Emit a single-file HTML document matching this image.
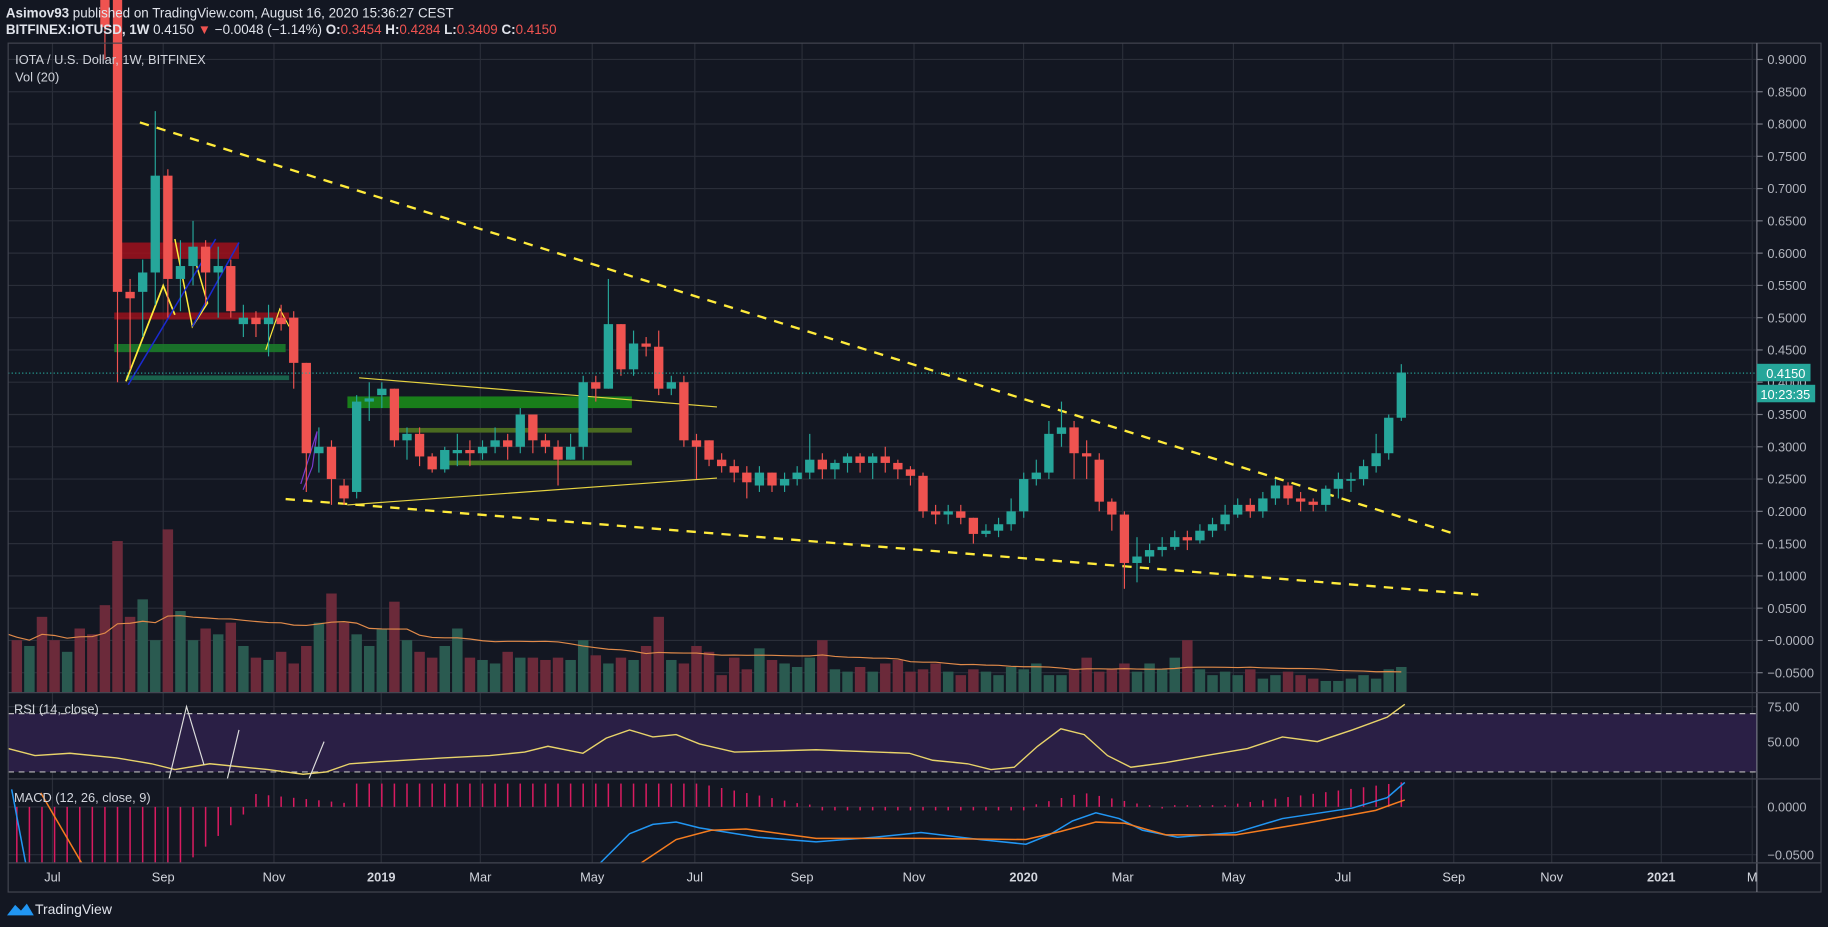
<!DOCTYPE html>
<html><head><meta charset="utf-8"><style>
html,body{margin:0;padding:0;background:#131722;overflow:hidden}
svg{display:block}
text{font-family:"Liberation Sans",sans-serif}
</style></head><body>
<svg id="s" width="1828" height="927" viewBox="0 0 1568 795" preserveAspectRatio="none" xmlns="http://www.w3.org/2000/svg">
<rect width="1568" height="795" fill="#131722"/>
<g id="grid" stroke="#2a2e39" stroke-width="1"></g>
<rect x="7" y="612" width="1500" height="50" fill="#2a1f45"/>
<line x1="7" y1="612" x2="1507" y2="612" stroke="#bbb" stroke-dasharray="5,4"/>
<line x1="7" y1="662" x2="1507" y2="662" stroke="#bbb" stroke-dasharray="5,4"/>
<g id="vol"></g>
<g id="draw"></g>
<g id="cdl"></g>
<g id="ind"></g>
<line x1="7" y1="320" x2="1507" y2="320" stroke="#26a69a" stroke-dasharray="1,2"/>
<!-- frames -->
<rect x="7" y="37" width="1555" height="728" fill="none" stroke="#434651"/>
<line x1="1507" y1="37" x2="1507" y2="765" stroke="#787b86"/>
<line x1="7" y1="594" x2="1562" y2="594" stroke="#434651"/>
<line x1="7" y1="668" x2="1562" y2="668" stroke="#434651"/>
<line x1="7" y1="740" x2="1562" y2="740" stroke="#434651"/>
<g id="axis" font-size="11" fill="#b2b5be"></g>
<rect x="1507" y="312" width="46" height="15" fill="#26a69a"/>
<text x="1515" y="324" font-size="11" fill="#fff">0.4150</text>
<rect x="1507" y="330" width="50" height="15" fill="#26a69a"/>
<text x="1510" y="342" font-size="11" fill="#fff">10:23:35</text>
<text x="5" y="15" font-size="11.5" fill="#e0e3eb"><tspan font-weight="bold">Asimov93</tspan> published on TradingView.com, August 16, 2020 15:36:27 CEST</text>
<text x="5" y="29" font-size="11.5" fill="#e0e3eb"><tspan font-weight="bold">BITFINEX:IOTUSD, 1W</tspan> 0.4150 <tspan fill="#ef5350">▼</tspan> −0.0048 (−1.14%) <tspan font-weight="bold">O:</tspan><tspan fill="#ef5350">0.3454</tspan> <tspan font-weight="bold">H:</tspan><tspan fill="#ef5350">0.4284</tspan> <tspan font-weight="bold">L:</tspan><tspan fill="#ef5350">0.3409</tspan> <tspan font-weight="bold">C:</tspan><tspan fill="#ef5350">0.4150</tspan></text>
<text x="13" y="55" font-size="11" fill="#d1d4dc">IOTA / U.S. Dollar, 1W, BITFINEX</text>
<text x="13" y="70" font-size="11" fill="#d1d4dc">Vol (20)</text>
<text x="12" y="612" font-size="11" fill="#d1d4dc">RSI (14, close)</text>
<text x="12" y="688" font-size="11" fill="#d1d4dc">MACD (12, 26, close, 9)</text>
<path d="M6 785 l7 -9 l5 5 l5 -6 l6 10 z" fill="#2196f3"/>
<text x="30" y="784" font-size="12" fill="#e0e3eb">TradingView</text>
</svg>
<script>
const NS="http://www.w3.org/2000/svg";
function el(p,t,a){const e=document.createElementNS(NS,t);for(const k in a)e.setAttribute(k,a[k]);document.getElementById(p).appendChild(e);return e;}
const Y=p=>51+(0.9-p)*553.6;
// grid + axis
for(let i=0;i<=19;i++){const p=0.9-i*0.05,y=Y(p);el('grid','line',{x1:7,y1:y,x2:1507,y2:y});
 const t=el('axis','text',{x:1516,y:y+4});t.textContent=(p<0.0001&&p>-0.0001)?'−0.0000':(p<0?'−'+(-p).toFixed(4):p.toFixed(4));el('axis','line',{x1:1507,y1:y,x2:1512,y2:y,stroke:'#787b86'});}
[[606,'75.00'],[636,'50.00'],[692,'0.0000'],[733,'−0.0500']].forEach(([y,s])=>{const t=el('axis','text',{x:1516,y:y+4});t.textContent=s;el('grid','line',{x1:7,y1:y,x2:1507,y2:y});});
[[45,'Jul'],[140,'Sep'],[235,'Nov'],[327,'2019'],[412,'Mar'],[508,'May'],[596,'Jul'],[688,'Sep'],[784,'Nov'],[878,'2020'],[963,'Mar'],[1058,'May'],[1152,'Jul'],[1247,'Sep'],[1331,'Nov'],[1425,'2021'],[1503,'M']].forEach(([x,s])=>{
 el('grid','line',{x1:x,y1:37,x2:x,y2:740});const t=el('axis','text',{x:x,y:756,'text-anchor':'middle',fill:'#d1d4dc'});t.textContent=s;if(s=='2019'||s=='2020'||s=='2021')t.setAttribute('font-weight','bold');});
// candles [open,close,high,low]
const C=[[1.05,0.95,1.1,0.9],[1.0,0.54,1.0,0.40],[0.54,0.53,0.56,0.42],[0.54,0.57,0.59,0.47],[0.57,0.72,0.82,0.52],[0.72,0.56,0.73,0.5],[0.56,0.58,0.62,0.51],[0.58,0.61,0.65,0.55],[0.61,0.57,0.62,0.52],[0.57,0.58,0.61,0.5],[0.58,0.51,0.59,0.5],
[0.49,0.50,0.52,0.47],[0.50,0.49,0.51,0.47],[0.49,0.50,0.52,0.44],[0.50,0.49,0.52,0.48],[0.50,0.43,0.51,0.39],[0.43,0.29,0.43,0.23],[0.29,0.30,0.33,0.26],[0.30,0.25,0.31,0.21],[0.24,0.22,0.25,0.21],[0.23,0.37,0.38,0.22],[0.37,0.375,0.40,0.34],[0.38,0.39,0.40,0.36],[0.39,0.31,0.39,0.30],[0.31,0.32,0.33,0.28],[0.32,0.285,0.33,0.27],[0.285,0.265,0.29,0.26],[0.265,0.295,0.3,0.26],[0.29,0.295,0.32,0.27],[0.295,0.29,0.31,0.27],[0.29,0.30,0.31,0.28],[0.30,0.31,0.33,0.29],[0.31,0.30,0.32,0.28],[0.30,0.35,0.36,0.29],[0.35,0.31,0.35,0.29],[0.31,0.30,0.32,0.29],[0.30,0.28,0.31,0.24],[0.28,0.30,0.32,0.28],[0.30,0.40,0.41,0.28],[0.40,0.39,0.41,0.37],[0.39,0.49,0.56,0.39],[0.49,0.42,0.49,0.41],[0.42,0.46,0.48,0.41],[0.46,0.455,0.47,0.44],[0.455,0.39,0.48,0.38],[0.39,0.40,0.41,0.38],[0.40,0.31,0.41,0.30],[0.31,0.30,0.32,0.25],[0.31,0.28,0.31,0.27],[0.28,0.27,0.29,0.26],[0.27,0.26,0.28,0.245],[0.26,0.245,0.27,0.22],[0.24,0.26,0.27,0.23],[0.26,0.24,0.26,0.23],[0.24,0.25,0.26,0.23],[0.25,0.26,0.27,0.24],[0.26,0.28,0.32,0.25],[0.28,0.265,0.29,0.25],[0.265,0.275,0.28,0.25],[0.275,0.285,0.29,0.26],[0.285,0.275,0.29,0.26],[0.275,0.285,0.29,0.25],[0.285,0.275,0.30,0.26],[0.275,0.265,0.28,0.25],[0.265,0.255,0.27,0.24],[0.255,0.20,0.26,0.19],[0.20,0.195,0.21,0.18],[0.195,0.20,0.21,0.18],[0.20,0.19,0.21,0.18],[0.19,0.165,0.19,0.15],[0.165,0.17,0.18,0.16],[0.17,0.18,0.19,0.16],[0.18,0.20,0.22,0.17],[0.20,0.25,0.26,0.19],[0.25,0.26,0.28,0.24],[0.26,0.32,0.34,0.25],[0.32,0.33,0.37,0.30],[0.33,0.29,0.34,0.25],[0.29,0.285,0.31,0.25],[0.28,0.215,0.29,0.20],[0.215,0.195,0.22,0.17],[0.195,0.12,0.20,0.08],[0.12,0.13,0.16,0.09],[0.13,0.14,0.15,0.12],[0.14,0.145,0.16,0.13],[0.145,0.16,0.17,0.14],[0.16,0.155,0.17,0.14],[0.155,0.17,0.18,0.15],[0.17,0.18,0.19,0.16],[0.18,0.195,0.21,0.17],[0.195,0.21,0.22,0.19],[0.21,0.20,0.22,0.19],[0.20,0.22,0.23,0.19],[0.22,0.24,0.25,0.21],[0.24,0.22,0.245,0.21],[0.22,0.215,0.23,0.20],[0.215,0.21,0.22,0.20],[0.21,0.235,0.24,0.20],[0.235,0.25,0.26,0.22],[0.25,0.25,0.26,0.23],[0.25,0.27,0.28,0.24],[0.27,0.29,0.32,0.26],[0.29,0.345,0.35,0.28],[0.345,0.415,0.428,0.34]];
const n=C.length,st=(1202-90)/(n-1),X=i=>90+i*st;
// volume
const V=[50,45,40,65,45,35,55,50,75,130,65,80,45,140,70,45,55,50,60,40,30,28,35,25,40,60,85,60,50,40,55,78,45,35,30,40,55,30,28,25,35,30,30,28,30,28,45,32,25,30,28,40,65,28,25,40,35,15,30,20,38,28,25,22,30,45,20,18,22,18,25,28,18,20,25,18,15,20,18,15,22,20,25,15,15,20,30,18,20,25,18,25,20,30,45,20,15,18,15,20,12,15,18,15,12,10,10,12,15,12,20,22,15,18,22];
for(let i=-8;i<n;i++){const x=X(i);if(x<8)continue;const v=V[i+8]||15;const up=i>=0?C[i][1]>=C[i][0]:(i%3==0);
 el('vol','rect',{x:x-4.5,y:594-v,width:9,height:v,fill:up?'#2a5a50':'#6b2a3a'});}
let ma=[];for(let i=-8;i<n;i++){const x=X(i);if(x<8)continue;let s=0,c=0;for(let k=Math.max(0,i+8-19);k<=i+8;k++){s+=V[k]||15;c++;}ma.push(x.toFixed(1)+','+(594-s/c).toFixed(1));}
el('vol','polyline',{points:'7,544 '+ma.join(' '),fill:'none',stroke:'#e08a4a','stroke-width':1});
// drawings
const D=(t,a)=>el('draw',t,a);
D('rect',{x:98,y:208,width:107,height:14,fill:'#a0101c',opacity:0.85});
D('rect',{x:98,y:268,width:150,height:6,fill:'#a0101c',opacity:0.8});
D('rect',{x:98,y:295,width:147,height:7,fill:'#1b7a2a',opacity:0.9});
D('rect',{x:108,y:322,width:140,height:4,fill:'#1b6a50',opacity:0.9});
D('rect',{x:298,y:340,width:244,height:10,fill:'#1b8a1a',opacity:0.9});
D('rect',{x:338,y:367,width:204,height:4,fill:'#4a6a20'});
D('rect',{x:385,y:395,width:157,height:4,fill:'#4a7a20'});
D('polyline',{points:'108,327 140,245 150,270',stroke:'#ffeb3b',fill:'none','stroke-width':1.5});
D('polyline',{points:'150,205 165,280 178,260 165,215',stroke:'#ffeb3b',fill:'none','stroke-width':1.3});
D('line',{x1:110,y1:330,x2:185,y2:205,stroke:'#1a2ad0','stroke-width':1.3});
D('line',{x1:165,y1:280,x2:205,y2:208,stroke:'#1a2ad0','stroke-width':1.3});
D('polyline',{points:'228,300 240,265 248,280',stroke:'#ffeb3b',fill:'none'});
D('line',{x1:308,y1:324,x2:615,y2:349,stroke:'#e6d340','stroke-width':1});
D('line',{x1:298,y1:433,x2:615,y2:410,stroke:'#e6d340','stroke-width':1});
D('polyline',{points:'258,415 272,370 268,400 260,420',stroke:'#7a3ad0',fill:'none'});
D('line',{x1:120,y1:105,x2:1245,y2:457,stroke:'#ffeb3b','stroke-width':2,'stroke-dasharray':'8,7'});
D('line',{x1:245,y1:428,x2:1268,y2:510,stroke:'#ffeb3b','stroke-width':2,'stroke-dasharray':'8,7'});
// candles
C.forEach((c,i)=>{const x=X(i),[o,cl,h,l]=c,col=cl>=o?'#26a69a':'#ef5350';
 el('cdl','line',{x1:x,y1:Y(h),x2:x,y2:Y(l),stroke:col,'stroke-width':1});
 const t=Y(Math.max(o,cl)),b=Y(Math.min(o,cl));el('cdl','rect',{x:x-4,y:t,width:8,height:Math.max(1.5,b-t),fill:col});});
// RSI
el('ind','polyline',{points:'7,642 30,648 60,646 100,650 130,655 150,660 180,655 230,660 260,664 280,662 300,655 330,653 380,650 420,648 450,645 470,640 500,646 520,633 540,626 560,632 580,630 600,638 630,645 700,643 780,646 800,652 830,655 850,660 870,658 890,640 910,625 930,630 950,648 970,658 1000,654 1040,647 1070,642 1100,632 1130,636 1160,626 1190,615 1205,604',fill:'none',stroke:'#e8d36a','stroke-width':1.2});
el('ind','polyline',{points:'145,668 160,606 175,656',fill:'none',stroke:'#ddd'});
el('ind','line',{x1:195,y1:668,x2:205,y2:626,stroke:'#ddd'});
el('ind','line',{x1:265,y1:668,x2:278,y2:636,stroke:'#ddd'});
// MACD histogram
for(let i=-8;i<n;i++){const x=X(i);if(x<12)continue;let h;
 if(x<160)h=-48;else if(x<215)h=-48+(x-160)*0.85;else if(x<300)h=Math.max(-3,8-(x-250)*0.1)*((x%3)?1:0.5);else if(x<600)h=20;else if(x<700)h=Math.max(2,20-(x-600)*0.2);else if(x<880)h=-3;else if(x<930)h=(x-880)*0.25;else if(x<1000)h=12-(x-930)*0.2;else h=Math.max(0,(x-1040)*0.13);
 if(Math.abs(h)<1)h=1.5;el('ind','line',{x1:x,y1:692,x2:x,y2:692-h,stroke:'#d81b60','stroke-width':1.3});}
el('ind','polyline',{points:'10,677 22,740',fill:'none',stroke:'#2196f3','stroke-width':1.3});
el('ind','polyline',{points:'35,680 70,740',fill:'none',stroke:'#f57c1f','stroke-width':1.3});
el('ind','polyline',{points:'515,740 540,715 560,707 580,705 600,710 650,718 700,722 750,718 790,714 840,720 880,724 900,716 920,704 940,697 960,702 980,712 1010,718 1060,714 1100,702 1160,693 1190,684 1205,671',fill:'none',stroke:'#2196f3','stroke-width':1.3});
el('ind','polyline',{points:'550,740 580,720 610,712 640,711 700,719 790,719 880,720 910,713 940,705 965,706 1000,716 1060,716 1120,706 1180,695 1205,686',fill:'none',stroke:'#f57c1f','stroke-width':1.3});
</script>
</body></html>
